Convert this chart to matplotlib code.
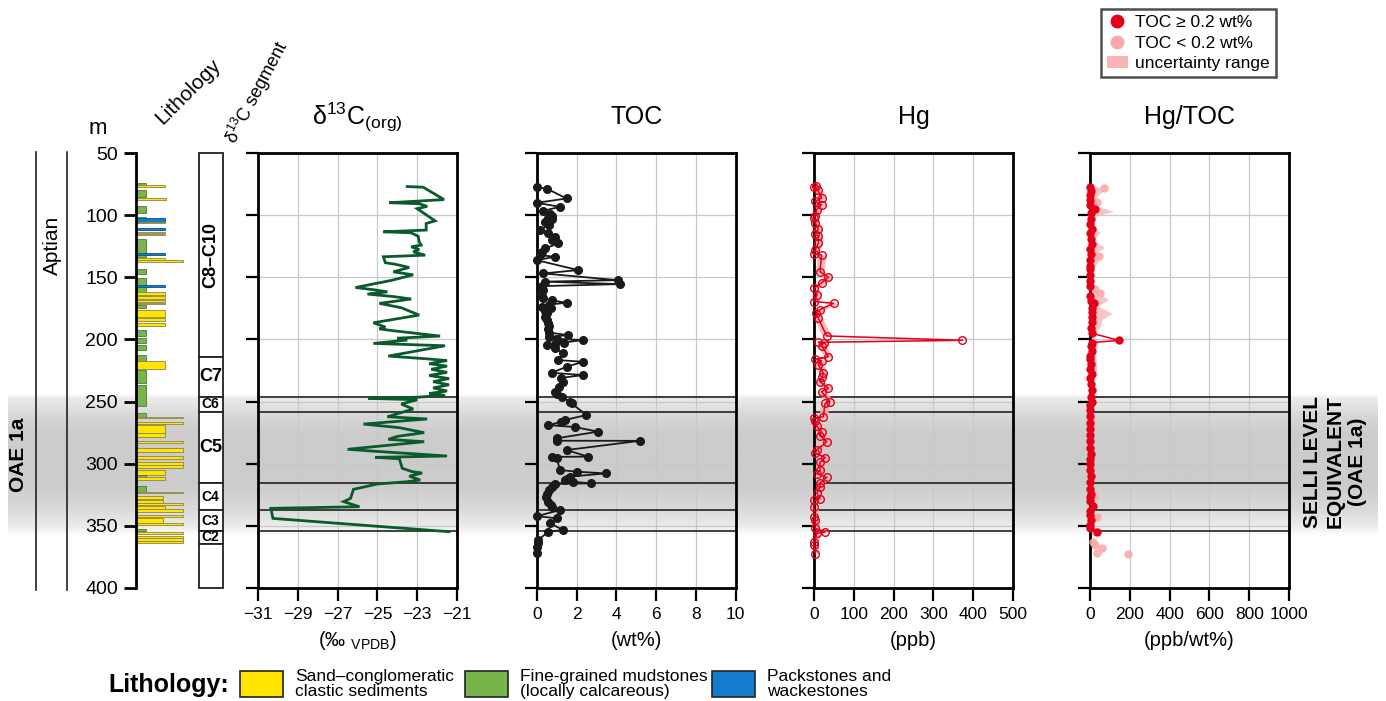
import numpy as np
import matplotlib
matplotlib.use("Agg")
import matplotlib.pyplot as plt
from matplotlib.patches import Rectangle, Patch
from matplotlib.lines import Line2D

plt.rcParams['font.family'] = ['Liberation Sans', 'DejaVu Sans']
plt.rcParams['mathtext.fontset'] = 'custom'
plt.rcParams['mathtext.rm'] = 'Liberation Sans'
plt.rcParams['mathtext.it'] = 'Liberation Sans:italic'

# ---------------- data ----------------
depth_ticks = [50, 100, 150, 200, 250, 300, 350, 400]

# lithology beds: top, base (m), rock type, grain-size width
lith_top = [74.4, 75.8, 79.8, 86.5, 92.6, 101.2, 102.0, 105.3, 110.4, 113.3, 115.2, 119.5, 130.7,
            134.8, 136.1, 143.6, 150.9, 156.0, 162.1, 164.8, 168.3, 170.4, 172.3, 176.3, 183.0,
            186.5, 192.4, 199.1, 204.5, 212.5, 217.4, 224.6, 236.7, 258.9, 262.2, 266.2, 268.9,
            275.6, 281.5, 287.1, 293.8, 298.4, 301.0, 305.1, 309.1, 310.4, 317.9, 322.5, 326.0,
            329.2, 331.4, 334.0, 336.7, 341.3, 344.0, 347.4, 352.8, 354.7, 358.2, 360.1, 361.9]
lith_base = [76.0, 77.1, 85.1, 87.8, 98.5, 106.1, 105.3, 106.3, 112.0, 114.6, 116.3, 133.4, 131.8,
             136.1, 138.0, 147.4, 165.6, 157.6, 164.3, 167.5, 169.6, 171.8, 175.0, 181.7, 184.9,
             188.9, 197.0, 203.1, 208.5, 217.1, 223.8, 235.3, 253.6, 262.2, 263.5, 268.0, 275.6,
             278.2, 283.6, 290.3, 296.5, 301.0, 303.7, 309.1, 311.8, 313.1, 322.5, 323.8, 328.7,
             331.4, 333.0, 336.7, 338.6, 342.6, 347.4, 349.0, 353.9, 356.6, 360.1, 361.9, 363.5]
lith_type = ['M', 'S', 'M', 'S', 'M', 'M', 'P', 'S', 'P', 'S', 'S', 'M', 'P',
             'S', 'S', 'M', 'M', 'P', 'S', 'S', 'S', 'S', 'M', 'S', 'S',
             'S', 'M', 'M', 'M', 'M', 'S', 'M', 'M', 'M', 'S', 'S', 'S',
             'S', 'S', 'S', 'S', 'S', 'S', 'S', 'M', 'S', 'M', 'S', 'S',
             'S', 'S', 'S', 'S', 'S', 'S', 'S', 'M', 'S', 'S', 'S', 'S']
lith_grain = [1.0, 2.9, 1.0, 3.0, 1.0, 1.0, 2.9, 2.9, 2.9, 2.9, 2.9, 1.0, 2.9,
              2.9, 4.7, 1.0, 1.0, 2.9, 2.9, 2.9, 2.9, 2.9, 1.0, 2.9, 2.9,
              2.9, 1.0, 1.0, 1.0, 1.0, 2.9, 1.0, 1.0, 1.0, 4.7, 4.7, 2.9,
              2.9, 4.7, 4.7, 4.7, 4.7, 4.7, 2.9, 1.0, 2.9, 1.0, 4.7, 2.7,
              2.7, 4.7, 2.9, 4.7, 4.7, 2.7, 4.7, 1.0, 4.7, 4.7, 4.7, 4.7]

# carbon-isotope segments
seg_bounds = [50, 214, 246, 258, 315.5, 337.5, 354, 364.5, 400]
seg_labels = ['C8–C10', 'C7', 'C6', 'C5', 'C4', 'C3', 'C2', '']
panel_lines = [246, 258, 315.5, 337.5, 354]
oae_top, oae_base = 244, 358

# d13C(org)
d13c_depth = [77.0, 77.5, 87.5, 90.0, 90.8, 93.0, 94.8, 104.6, 106.7, 112.0, 113.4, 114.2, 117.0,
              121.4, 124.1, 125.5, 127.6, 129.5, 132.2, 133.5, 138.3, 139.5, 142.1, 145.6, 148.0,
              152.5, 158.2, 160.0, 161.7, 163.5, 165.5, 167.5, 171.0, 174.5, 180.4, 186.6, 190.0,
              191.5, 193.0, 197.3, 199.0, 200.5, 203.2, 205.1, 213.4, 215.5, 217.0, 219.5, 221.5,
              224.0, 226.5, 229.0, 231.5, 234.0, 236.5, 239.0, 241.5, 243.5, 245.0, 246.5, 247.4,
              248.5, 252.0, 256.0, 262.2, 264.0, 268.1, 271.0, 275.0, 278.0, 280.4, 282.3, 288.4,
              290.0, 293.8, 294.9, 296.0, 303.7, 306.4, 307.5, 310.0, 313.1, 314.5, 316.3, 320.6,
              327.9, 330.5, 334.6, 335.9, 344.0, 354.7]
d13c_value = [-23.5, -22.7, -21.65, -24.4, -22.9, -22.5, -23.0, -22.1, -22.55, -22.55, -24.7, -23.3, -22.95,
              -22.9, -22.8, -23.3, -22.9, -23.2, -22.6, -24.7, -24.6, -24.1, -23.4, -24.2, -23.2,
              -24.3, -26.1, -25.2, -24.5, -25.5, -24.2, -23.3, -24.9, -23.8, -22.9, -25.2, -24.6,
              -24.9, -24.2, -21.85, -24.0, -23.5, -25.2, -21.6, -24.45, -22.6, -21.5, -22.4, -21.5,
              -22.3, -21.5, -22.4, -21.4, -22.2, -21.4, -22.2, -21.5, -22.4, -21.6, -23.0, -25.45,
              -23.0, -23.8, -23.2, -24.5, -22.5, -25.7, -23.9, -22.65, -24.0, -24.45, -22.65, -26.5,
              -25.1, -21.5, -25.1, -23.9, -23.75, -23.25, -22.75, -23.4, -22.85, -23.5, -25.0, -26.2,
              -26.35, -26.7, -25.9, -30.35, -30.25, -21.4]

# TOC (wt%)
toc_depth = [77.7, 78.6, 86.6, 90.1, 93.3, 96.5, 98.7, 100.5, 102.7, 103.5, 105.4, 108.0, 112.0,
             114.7, 117.4, 120.0, 122.8, 126.8, 129.5, 132.2, 133.5, 136.2, 144.2, 146.9, 152.3,
             153.5, 155.5, 157.1, 160.0, 163.0, 165.0, 167.0, 168.5, 170.5, 172.0, 173.7, 175.0,
             177.0, 179.1, 182.0, 184.5, 187.0, 189.5, 192.0, 194.5, 196.5, 198.0, 199.5, 200.5,
             202.5, 203.5, 204.6, 207.0, 211.0, 216.6, 218.0, 222.0, 226.8, 228.7, 231.0, 234.0,
             238.0, 242.1, 244.0, 246.0, 250.1, 251.5, 260.8, 264.8, 266.5, 268.9, 270.5, 274.2,
             279.6, 281.5, 281.6, 289.0, 294.3, 294.5, 295.0, 305.1, 306.4, 307.8, 310.4, 312.0,
             313.1, 314.5, 315.8, 316.3, 318.5, 321.0, 324.4, 326.5, 330.5, 333.0, 334.6, 337.3,
             342.1, 344.0, 348.0, 353.3, 354.7, 361.4, 364.0, 366.8, 372.1]
toc_value = [0.0, 0.5, 1.5, 0.0, 1.17, 0.33, 0.67, 0.75, 0.58, 0.75, 0.42, 0.6, 0.17,
             0.58, 0.92, 0.75, 1.08, 0.42, 0.25, 0.17, 0.92, 0.0, 2.08, 0.33, 4.08,
             0.4, 4.17, 0.25, 0.3, 0.2, 0.25, 0.33, 0.75, 1.5, 0.6, 0.25, 0.7,
             0.4, 0.5, 0.42, 0.5, 0.55, 0.6, 0.55, 0.6, 1.58, 0.6, 1.0, 2.33,
             1.35, 0.92, 0.5, 0.9, 1.3, 1.08, 2.33, 1.5, 0.75, 2.33, 1.2, 1.33,
             1.1, 0.92, 1.0, 1.25, 1.67, 1.75, 2.5, 1.42, 1.2, 0.58, 1.92, 3.08,
             1.0, 1.0, 5.17, 1.5, 2.58, 0.75, 1.0, 1.17, 2.0, 3.47, 1.67, 1.5,
             1.4, 1.8, 2.75, 0.92, 0.75, 0.6, 0.5, 0.45, 0.58, 0.7, 0.75, 1.17,
             0.03, 1.0, 0.67, 1.33, 0.58, 0.08, 0.05, 0.0, 0.0]

# Hg (ppb)
hg_depth = [76.3, 77.5, 80.0, 86.3, 89.0, 91.6, 95.5, 100.5, 102.5, 106.0, 111.0, 115.5, 117.0,
            122.5, 128.0, 131.5, 132.0, 145.4, 150.0, 154.5, 158.8, 164.0, 169.5, 170.9, 176.0,
            179.0, 183.0, 197.2, 200.7, 202.3, 203.0, 205.0, 213.8, 216.0, 217.0, 220.5, 227.0,
            230.0, 234.0, 239.4, 242.0, 250.1, 251.5, 262.2, 263.5, 266.0, 270.0, 274.3, 277.5,
            282.3, 289.0, 291.5, 295.0, 299.0, 305.2, 308.0, 311.0, 315.5, 318.5, 323.5, 328.0,
            329.5, 334.7, 342.5, 345.0, 352.0, 354.9, 356.0, 362.9, 365.5, 372.3]
hg_value = [5, 0, 10, 19, 2, 19, 7, 2, 0, 3, 11, 3, 11,
            11, 3, 0, 19, 15, 36, 19, 0, 8, 0, 49, 15,
            5, 11, 32, 373, 11, 24, 19, 36, 3, 19, 11, 23,
            21, 15, 36, 19, 40, 28, 23, 0, 3, 7, 19, 15,
            32, 7, 3, 28, 15, 15, 7, 32, 15, 15, 7, 15,
            0, 0, 0, 3, 3, 28, 7, 0, 0, 3]
HG_UNCERTAINTY = 11  # ppb

# Hg/TOC (ppb/wt%), samples with TOC >= 0.2 wt%
hgtoc_depth = [77.2, 80.5, 84, 88, 92, 95.4, 98.5, 103, 107, 111,
               114.5, 119, 123, 127, 131, 136, 141, 143.7, 148, 153,
               157, 165, 169, 171, 175, 178, 182, 186, 191, 195,
               200.8, 202.5, 205, 209, 213, 216, 220, 224, 228, 231,
               236, 241, 246, 250, 253, 257, 262, 267, 272, 277,
               282, 287, 292, 296, 300, 305, 310, 315, 320, 324,
               327, 330, 334, 338, 341, 345, 349, 352, 354.7]
hgtoc_value = [0, 3, 0, 2, 0, 25, 6, 3, 0, 10,
               2, 5, 8, 0, 3, 2, 0, 0, 0, 0,
               0, 0, 5, 22, 10, 8, 12, 10, 5, 8,
               147, 8, 3, 10, 0, 0, 5, 2, 8, 0,
               5, 10, 5, 12, 2, 0, 0, 0, 0, 0,
               2, 0, 3, 1, 0, 2, 4, 0, 1, 3,
               0, 2, 17, 1, 0, 3, 2, 0, 34]
# samples with TOC < 0.2 wt%
hgtoc_low_depth = [78, 89.3, 133, 159.8, 163, 342.6, 363, 365.5, 367.6, 372, 372.5]
hgtoc_low_value = [68, 34, 46, 25, 51, 34, 17, 25, 59, 34, 192]
# uncertainty envelope
band_depth = [77, 80, 85, 92, 97, 101, 108, 114, 120, 126, 131, 137, 145, 155, 160, 163, 168, 173,
              179, 184, 190, 197, 203, 209, 216, 224, 232, 240, 250, 260, 268, 276, 284, 291, 300,
              310, 320, 327, 334, 342, 350, 355.5, 358]
band_high = [40, 68, 35, 20, 119, 25, 17, 51, 15, 73, 30, 42, 8, 12, 30, 45, 93, 40,
             110, 60, 50, 15, 42, 25, 30, 34, 18, 20, 15, 15, 29, 10, 12, 25, 10,
             12, 15, 51, 10, 12, 15, 59, 20]
band_low = [-5, -5, -5, -5, -12, -5, -5, -8, -5, -8, -5, -8, -5, -5, -15, -25, -20, -8,
            -10, -8, -5, -5, -8, -5, -5, -5, -5, -5, -5, -8, -8, -5, -5, -5, -5,
            -5, -5, -8, -5, -5, -5, -8, -5]

# ---------------- styling ----------------
W, H = 1386, 701
def fx(x):
    return x / W
def fy(y):
    return 1 - y / H

LITH_COLORS = {'S': '#ffe500', 'M': '#78b44c', 'P': '#137ccc'}
LITH_EDGES = {'S': '#8a8450', 'M': '#4f7a34', 'P': '#0b4f8a'}
GREEN = '#0b5a2c'
RED = '#e2001a'
PINK = '#f9a9a9'
GRID = '#c8c8c8'

fig = plt.figure(figsize=(W / 100, H / 100), dpi=100)
pb, pt = fy(588), fy(153)
ph = pt - pb

# shaded OAE 1a band across the figure
ax_bg = fig.add_axes([fx(8), pb, fx(1378) - fx(8), ph], zorder=0)
ax_bg.set_xlim(0, 1)
ax_bg.set_ylim(400, 50)
ax_bg.axis('off')
rows = np.linspace(oae_top, oae_base, 300)
shade = np.interp(rows, [244, 247, 262, 275, 318, 336, 350, 358],
                  [1.0, 0.92, 0.84, 0.80, 0.80, 0.85, 0.92, 1.0])
ax_bg.imshow(np.repeat(shade[:, None], 2, axis=1), cmap='gray', vmin=0, vmax=1,
             extent=[0, 1, oae_base, oae_top], aspect='auto', interpolation='bilinear')

# left stratigraphic annotations
fig.add_artist(Line2D([fx(36), fx(36)], [fy(152), fy(590)], color='#222222', lw=1.2))
fig.add_artist(Line2D([fx(67), fx(67)], [fy(152), fy(590)], color='#222222', lw=1.2))
fig.text(fx(19), fy(455), 'OAE 1a', rotation=90, ha='center', va='center',
         fontsize=15, fontweight='bold', zorder=5)
fig.text(fx(52), fy(245), 'Aptian', rotation=90, ha='center', va='center', fontsize=15)
fig.text(fx(98), fy(128), 'm', ha='center', va='center', fontsize=16)

# lithology column with depth axis
ax_l = fig.add_axes([fx(136), pb, fx(50), ph], zorder=2)
ax_l.set_facecolor('none')
ax_l.set_xlim(0, 5)
ax_l.set_ylim(400, 50)
for s in ['top', 'right', 'bottom']:
    ax_l.spines[s].set_visible(False)
ax_l.spines['left'].set_linewidth(2)
ax_l.set_xticks([])
ax_l.set_yticks(depth_ticks)
ax_l.tick_params(axis='y', length=9, width=2, labelsize=14, pad=4)
for t, b, k, g in zip(lith_top, lith_base, lith_type, lith_grain):
    ax_l.add_patch(Rectangle((0, t), g, b - t, facecolor=LITH_COLORS[k],
                             edgecolor=LITH_EDGES[k], lw=0.6))
fig.text(fx(188), fy(92), 'Lithology', rotation=45, ha='center', va='center', fontsize=15)

# carbon-isotope segment column
ax_s = fig.add_axes([fx(198.5), pb, fx(24), ph], zorder=2)
ax_s.set_facecolor('none')
ax_s.set_xlim(0, 1)
ax_s.set_ylim(400, 50)
ax_s.axis('off')
for i, lab in enumerate(seg_labels):
    t, b = seg_bounds[i], seg_bounds[i + 1]
    ax_s.add_patch(Rectangle((0, t), 1, b - t, facecolor='white', edgecolor='#222222',
                             lw=1.3, clip_on=False))
    if lab:
        big = (b - t) > 25
        ax_s.text(0.5, (t + b) / 2, lab, ha='center', va='center', fontweight='bold',
                  fontsize=13 if big else 10, rotation=90 if lab == 'C8–C10' else 0)
fig.text(fx(257), fy(92), 'δ$^{13}$C segment', rotation=62, ha='center', va='center',
         fontsize=13)

# data panels
panel_left = [258, 536.7, 814, 1090]
panel_lims = [(-31, -21), (0, 10), (0, 500), (0, 1000)]
panel_ticks = [[-31, -29, -27, -25, -23, -21], [0, 2, 4, 6, 8, 10],
               [0, 100, 200, 300, 400, 500], [0, 200, 400, 600, 800, 1000]]
panel_titles = ['δ$^{13}$C$_{\\rm (org)}$', 'TOC', 'Hg', 'Hg/TOC']
panel_units = ['(‰ $_{\\rm VPDB}$)', '(wt%)', '(ppb)', '(ppb/wt%)']
axes = []
for left, lim, ticks, title, unit in zip(panel_left, panel_lims, panel_ticks,
                                          panel_titles, panel_units):
    ax = fig.add_axes([fx(left), pb, fx(199), ph], zorder=2)
    ax.set_facecolor('none')
    ax.set_xlim(*lim)
    ax.set_ylim(400, 50)
    ax.set_xticks(ticks)
    ax.set_yticks(depth_ticks)
    ax.set_yticklabels([])
    ax.grid(True, color=GRID, lw=0.9, zorder=0)
    ax.set_axisbelow(True)
    for s in ax.spines.values():
        s.set_linewidth(2)
    ax.tick_params(axis='both', length=9, width=1.6)
    ax.tick_params(axis='x', labelsize=12.5, pad=5)
    for d in panel_lines:
        ax.axhline(d, color='#222222', lw=1.2, zorder=1)
    cx = left + 99.5
    fig.text(fx(cx), fy(117), title, ha='center', va='center', fontsize=18)
    fig.text(fx(cx), fy(641), unit, ha='center', va='center', fontsize=14.5)
    axes.append(ax)

ax_c, ax_t, ax_h, ax_r = axes

ax_c.plot(d13c_value, d13c_depth, color=GREEN, lw=2.0, zorder=3, solid_joinstyle='miter')

ax_t.plot(toc_value, toc_depth, color='#1a1a1a', lw=1.3, marker='o', ms=5.5,
          mfc='#1a1a1a', mec='#1a1a1a', zorder=3, clip_on=False)

hg = np.array(hg_value, dtype=float)
ax_h.fill_betweenx(hg_depth, hg - HG_UNCERTAINTY, hg + HG_UNCERTAINTY,
                   color='#f7b0b0', alpha=0.85, lw=0, zorder=2)
ax_h.plot(hg_value, hg_depth, color=RED, lw=1.1, marker='o', ms=5.5, mfc='none',
          mec=RED, mew=1.0, zorder=3, clip_on=False)

ax_r.fill_betweenx(band_depth, band_low, band_high, color='#f8b0b0', alpha=0.75,
                   lw=0, zorder=2)
ax_r.plot(hgtoc_low_value, hgtoc_low_depth, ls='none', marker='o', ms=6, mfc=PINK,
          mec='none', alpha=0.9, zorder=3, clip_on=False)
ax_r.plot(hgtoc_value, hgtoc_depth, color=RED, lw=1.1, marker='o', ms=6, mfc=RED,
          mec='none', zorder=4, clip_on=False)

# right-hand label for the shaded interval
fig.text(fx(1335), fy(462), 'SELLI LEVEL\nEQUIVALENT\n(OAE 1a)', rotation=90,
         ha='center', va='center', fontsize=15, fontweight='bold', linespacing=1.25,
         multialignment='center')

# symbol legend
handles = [Line2D([], [], ls='none', marker='o', ms=10, mfc=RED, mec='none'),
           Line2D([], [], ls='none', marker='o', ms=10, mfc=PINK, mec='none'),
           Patch(facecolor='#f9b5b5', edgecolor='none')]
leg = fig.legend(handles, ['TOC ≥ 0.2 wt%', 'TOC < 0.2 wt%', 'uncertainty range'],
                 loc='upper left', bbox_to_anchor=(fx(1101), fy(9)), frameon=True,
                 fancybox=False, fontsize=12.5, handlelength=1.2, handletextpad=0.4,
                 labelspacing=0.3, borderpad=0.35, borderaxespad=0)
leg.get_frame().set_edgecolor('#222222')
leg.get_frame().set_linewidth(1.8)

# lithology key
fig.text(fx(108), fy(685), 'Lithology:', ha='left', va='center', fontsize=18,
         fontweight='bold')
key_items = [(240, 'S', 'Sand–conglomeratic\nclastic sediments'),
             (465, 'M', 'Fine-grained mudstones\n(locally calcareous)'),
             (712, 'P', 'Packstones and\nwackestones')]
for x0, k, txt in key_items:
    fig.add_artist(Rectangle((fx(x0), fy(697)), fx(43), fy(671) - fy(697),
                             transform=fig.transFigure, facecolor=LITH_COLORS[k],
                             edgecolor='#222222', lw=1.2))
    fig.text(fx(x0 + 55), fy(684), txt, ha='left', va='center', fontsize=12.5,
             linespacing=0.95)

fig.savefig('out.png', dpi=100)
